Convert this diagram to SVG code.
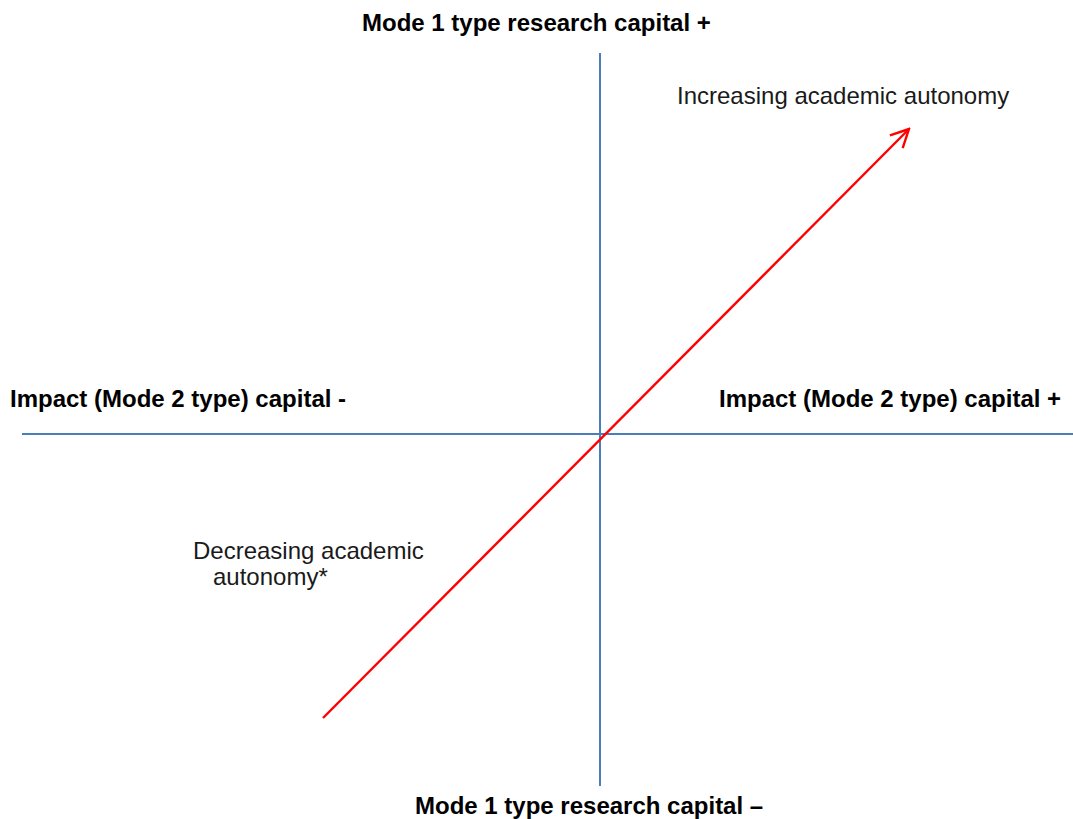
<svg xmlns="http://www.w3.org/2000/svg" width="1073" height="819" viewBox="0 0 1073 819">
<style>
.b{font-family:"Liberation Sans",Arial,sans-serif;font-weight:bold;font-size:24px;fill:#000}
.r{font-family:"Liberation Sans",Arial,sans-serif;font-size:24px;fill:#1a1a1a}
.ax{stroke:#4a7ebb;stroke-width:2;fill:none}
</style>
<defs>
<marker id="ah" viewBox="0 0 22 22" refX="20" refY="11" markerWidth="22" markerHeight="22" markerUnits="userSpaceOnUse" orient="auto">
<path d="M2,2 L20,11 L2,20" fill="none" stroke="#ff0000" stroke-width="2.4"/>
</marker>
</defs>
<rect width="1073" height="819" fill="#fff"/>
<g id="connectors">
<line class="ax" x1="600" y1="53" x2="600" y2="786"/>
<line class="ax" x1="22" y1="434" x2="1073" y2="434"/>
<line x1="323" y1="718" x2="909" y2="129" stroke="#ff0000" stroke-width="2.4" marker-end="url(#ah)"/>
</g>
<g id="top-label"><text class="b" x="362" y="31">Mode 1 type research capital +</text></g>
<g id="bottom-label"><text class="b" x="415" y="814">Mode 1 type research capital –</text></g>
<g id="left-label"><text class="b" x="10" y="407">Impact (Mode 2 type) capital -</text></g>
<g id="right-label"><text class="b" x="719" y="407">Impact (Mode 2 type) capital +</text></g>
<g id="increasing"><text class="r" x="677" y="104">Increasing academic autonomy</text></g>
<g id="decreasing"><text class="r" x="193" y="559">Decreasing academic</text><text class="r" x="213" y="585">autonomy*</text></g>
</svg>
